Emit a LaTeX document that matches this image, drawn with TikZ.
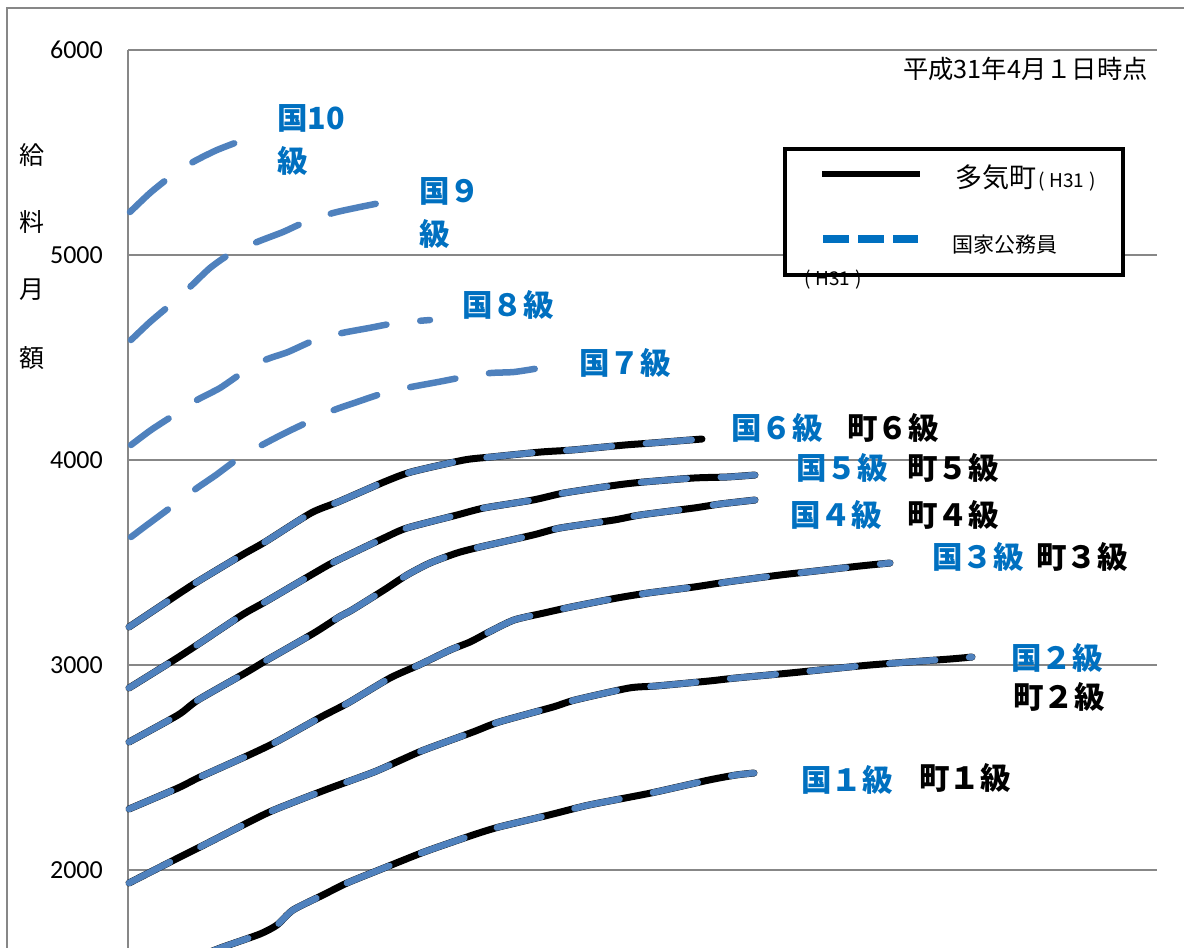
\documentclass[tikz,border=0pt]{standalone}
\usepackage{fontspec}
\setmainfont{Carlito}
\newfontfamily\jp{Noto Sans CJK JP}
\definecolor{lblue}{HTML}{4F81BD}
\definecolor{tblue}{HTML}{0070C0}
\definecolor{gridc}{HTML}{878787}
\tikzset{
  gridline/.style={draw=gridc, line width=1.6pt},
  ticklab/.style={anchor=east, inner sep=0pt, font=\fontsize{26}{26}\selectfont},
  kuni/.style={text=tblue, inner sep=0pt, anchor=west, align=left, font=\jp\bfseries\fontsize{30.5}{43}\selectfont},
  machi/.style={text=black, inner sep=0pt, anchor=west, font=\jp\bfseries\fontsize{30.5}{43}\selectfont},
  ylab/.style={inner sep=0pt, font=\jp\fontsize{25}{25}\selectfont},
  blackcurve/.style={draw=black, line width=7pt, line join=round, line cap=round},
  bluecurve/.style={draw=lblue, line width=6.5pt, line join=round, line cap=round, dash pattern=on 46pt off 34pt},
}
\newcommand{\hthirtyone}{(\hspace{0.25em}H31\hspace{0.25em})}
\begin{document}
\begin{tikzpicture}[x=1pt, y=-1pt]
\useasboundingbox (0,0) rectangle (1184,948);
\begin{scope}
\clip (0,0) rectangle (1184,948);
% outer frame
\draw[gridline] (7,960) -- (7,8) -- (1190,8);
% grid
\foreach \yy in {50,255,460,665,870} \draw[gridline] (128,\yy) -- (1157,\yy);
\draw[gridline] (128,50) -- (128,960);
% tick labels
\node[ticklab] (t6) at (103,50) {6000};
\node[ticklab] (t5) at (103,255) {5000};
\node[ticklab] (t4) at (103,460) {4000};
\node[ticklab] (t3) at (103,665) {3000};
\node[ticklab] (t2) at (103,870) {2000};
% y label
\node[ylab] (y1) at (32,155) {給};
\node[ylab] (y2) at (32,222) {料};
\node[ylab] (y3) at (32,290) {月};
\node[ylab] (y4) at (32,358) {額};
% date
\node[inner sep=0pt, anchor=east, font=\jp\fontsize{25.3}{25}\selectfont] (date) at (1148,69) {平成31年4月１日時点};

% curves
\def\cA{(205,954) (223,947) (260,934) (277,925) (293,910) (323,895) (347,883) (379,870) (424,852) (473,835) (499,827) (549,815) (589,805) (651,793) (709,780) (736,775) (754,773)}
\def\cB{(129,883) (178,858) (200,847) (249,822) (274,810) (325,790) (374,772) (401,760) (424,750) (473,732) (499,722) (553,707) (575,700) (629,688) (656,686) (709,681) (736,678) (790,673) (870,665) (950,659) (972,657)}
\def\cC{(129,809) (178,788) (200,777) (249,755) (276,742) (321,717) (348,703) (390,678) (419,665) (450,650) (470,642) (489,632) (514,620) (544,613) (571,607) (617,598) (648,593) (694,587) (727,582) (780,575) (807,572) (860,566) (890,563)}
\def\cD{(129,742) (178,715) (198,700) (247,672) (267,660) (314,633) (339,617) (352,610) (384,590) (407,575) (430,563) (457,553) (480,547) (533,535) (560,528) (614,520) (640,515) (694,508) (720,504) (755,500)}
\def\cE{(129,688) (174,660) (197,645) (242,615) (265,602) (311,575) (334,562) (384,538) (407,528) (457,515) (484,508) (533,500) (564,493) (617,485) (644,482) (694,478) (727,477) (755,475)}
\def\cF{(129,627) (174,597) (197,582) (242,555) (265,542) (311,513) (338,502) (384,482) (411,472) (464,460) (491,457) (541,452) (572,450) (625,445) (652,443) (702,439)}
\def\cG{(131,537) (151,522) (174,505) (197,488) (216,475) (239,458) (262,445) (285,433) (308,422) (334,410) (357,402) (384,393) (411,387) (438,382) (464,377) (491,373) (514,372) (540,368)}
\def\cH{(131,445) (151,430) (174,415) (197,400) (220,388) (242,373) (265,360) (288,352) (315,340) (342,333) (369,328) (396,323) (430,320)}
\def\cI{(131,340) (150,322) (170,305) (190,287) (210,268) (230,254) (257,242) (283,232) (303,223) (333,213) (360,207) (385,202)}
\def\cJ{(130,212) (150,193) (170,177) (193,162) (217,150) (243,140)}

\foreach \cc in {\cA,\cB,\cC,\cD,\cE,\cF}
  \draw[blackcurve] plot[smooth, tension=0.4] coordinates \cc;
\foreach \cc in {\cA,\cB,\cC,\cD,\cE,\cF,\cG,\cH,\cI,\cJ}
  \draw[bluecurve] plot[smooth, tension=0.4] coordinates \cc;
\end{scope}

% labels
\node[kuni, anchor=north west] (k10) at (277,104) {国10\\級};
\node[kuni, anchor=north west] (k9) at (419,177) {国９\\級};
\node[kuni] (k8) at (462,305) {国８級};
\node[kuni] (k7) at (579,363) {国７級};
\node[kuni] (k6) at (731,428) {国６級};
\node[machi] (m6) at (847,428) {町６級};
\node[kuni] (k5) at (796,468) {国５級};
\node[machi] (m5) at (907,468) {町５級};
\node[kuni] (k4) at (790,515) {国４級};
\node[machi] (m4) at (907,515) {町４級};
\node[kuni] (k3) at (932,557) {国３級};
\node[machi] (m3) at (1036,557) {町３級};
\node[kuni] (k2) at (1011,658) {国２級};
\node[machi] (m2) at (1013,697) {町２級};
\node[kuni] (k1) at (801,780) {国１級};
\node[machi] (m1) at (919,778) {町１級};

% legend
\fill[white] (785,149) rectangle (1123,275);
\node[inner sep=0pt, font=\jp\fontsize{19}{19}\selectfont] (h31b) at (833,280) {\hthirtyone};
\draw[black, line width=4.5pt] (785,149) rectangle (1123,275);
\coordinate (la1) at (822,174);
\coordinate (la2) at (920,174);
\draw[black, line width=6pt] (la1) -- (la2);
\coordinate (lb1) at (823,239);
\coordinate (lb2) at (918,239);
\draw[tblue, line width=8pt, dash pattern=on 26pt off 9pt] (lb1) -- (lb2);
\node[inner sep=0pt, anchor=west, font=\jp\fontsize{27}{27}\selectfont] (lgA) at (955,178) {多気町\hspace{2pt}{\fontsize{19}{19}\selectfont\hthirtyone}};
\node[inner sep=0pt, anchor=west, font=\jp\fontsize{21}{21}\selectfont] (lgB) at (952,245) {国家公務員};
\end{tikzpicture}
\end{document}
